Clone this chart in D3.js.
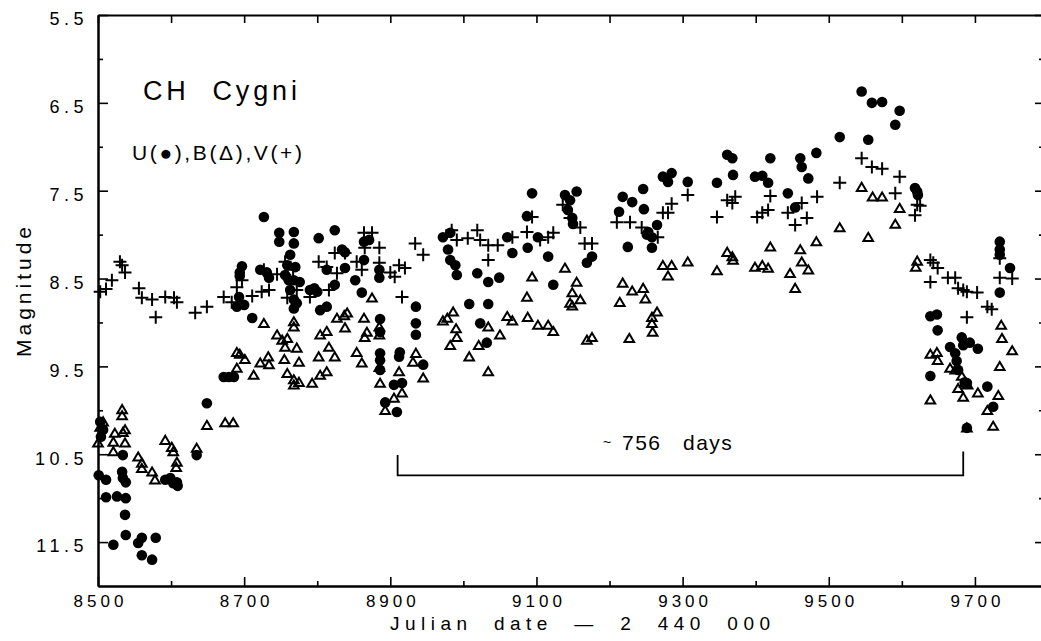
<!DOCTYPE html>
<html>
<head>
<meta charset="utf-8">
<script src="https://cdn.jsdelivr.net/npm/d3@7"></script>
<style>
  body { margin: 0; background: #fff; }
  text { font-family: "Liberation Sans", Arial, sans-serif; fill: #000; }
</style>
</head>
<body>
<script>
// CH Cygni light curve: U, B, V magnitudes against JD - 2440000

// U magnitudes (filled circles) as [day, mag]
var uData = [
  [8503,10.13],[8507,10.22],[8504,10.30],[8501,10.74],[8511,10.79],[8511,10.99],[8526,10.98],[8538,11.00],
  [8521,11.53],[8538,11.42],[8537,11.19],[8533,10.70],[8534,10.77],[8538,10.82],[8534,10.51],[8555,11.51],
  [8560,11.45],[8560,11.65],[8574,11.70],[8579,11.45],[8592,10.79],[8599,10.77],[8603,10.83],[8608,10.82],
  [8609,10.86],[8635,10.51],[8649,9.92],
  [8672,9.62],[8679,9.62],[8686,9.62],[8711,8.95],[8690,8.82],[8700,8.80],[8693,8.71],[8694,8.43],
  [8697,8.36],[8694,8.47],[8727,7.80],[8722,8.40],[8731,8.43],[8734,8.49],
  [8748,7.98],[8768,7.97],[8748,8.08],[8768,8.10],[8763,8.23],[8759,8.35],[8770,8.37],[8756,8.46],
  [8768,8.52],[8763,8.63],[8768,8.74],[8768,8.84],[8772,8.78],[8761,8.52],[8776,8.54],[8790,8.63],
  [8800,8.65],[8796,8.61],[8802,8.04],[8824,7.95],[8834,8.17],[8838,8.20],[8838,8.38],[8824,8.57],
  [8813,8.40],[8804,8.86],[8813,8.82],[8852,8.52],[8861,8.66],[8864,8.08],[8871,8.06],[8864,8.29],
  [8885,8.40],[8885,8.49],[8886,8.96],[8886,9.11],[8886,9.35],[8886,9.43],[8886,9.54],[8913,9.34],
  [8912,9.39],[8905,9.71],[8916,9.69],[8893,9.91],[8909,10.02],
  [8935,8.82],[8935,9.01],[8935,9.14],[8945,9.48],
  [8972,8.03],[8982,7.98],[8979,8.17],[8982,8.29],[8989,8.35],[8991,8.46],[9019,8.44],[9034,8.54],
  [9049,8.49],[9008,8.79],[9034,8.79],[9023,9.01],[9032,9.23],[9060,8.03],[9067,8.21],[9088,8.15],
  [9087,7.79],[9094,7.53],[9102,8.03],[9116,8.25],[9123,8.57],[9139,7.55],[9146,7.61],[9155,7.51],
  [9143,7.72],[9149,7.81],[9150,7.88],[9169,8.32],[9176,8.25],[9218,7.57],[9231,7.63],[9246,7.48],
  [9213,7.74],[9247,7.71],[9253,7.97],[9265,7.89],[9258,8.03],[9251,8.00],[9225,8.14],[9258,8.15],
  [9273,7.34],[9285,7.30],[9280,7.40],[9307,7.40],[9347,7.41],
  [9361,7.09],[9368,7.13],[9369,7.32],[9399,7.34],[9409,7.33],[9417,7.41],[9420,7.13],[9444,7.53],
  [9454,7.69],[9461,7.13],[9463,7.23],[9472,7.36],[9483,7.07],[9515,6.89],[9545,6.37],[9559,6.50],
  [9573,6.49],[9597,6.59],[9591,6.75],[9554,6.92],[9618,7.47],[9622,7.55],[9621,7.51],
  [9734,8.08],[9734,8.17],[9734,8.23],[9748,8.38],[9734,8.66],[9639,8.93],[9648,8.91],[9649,9.09],
  [9666,9.28],[9682,9.17],[9684,9.26],[9693,9.23],[9704,9.30],[9673,9.35],[9675,9.44],[9677,9.54],
  [9639,9.61],[9686,9.68],[9689,9.69],[9717,9.73],[9725,9.96],[9689,10.20]
];

// B magnitudes (open triangles)
var bData = [
  [8503,10.19],[8500,10.37],[8507,10.13],[8521,10.47],[8523,10.26],[8521,10.36],[8533,9.99],[8533,10.06],
  [8534,10.25],[8537,10.37],[8537,10.22],[8555,10.53],[8560,10.60],[8560,10.66],[8574,10.70],[8578,10.79],
  [8592,10.34],[8601,10.42],[8603,10.47],[8608,10.59],[8607,10.65],[8635,10.43],[8649,10.17],[8674,10.14],
  [8685,10.14],
  [8727,9.01],[8690,9.34],[8694,9.36],[8701,9.42],[8690,9.52],[8713,9.60],[8722,9.46],[8733,9.39],
  [8734,9.48],[8745,9.14],[8752,9.20],[8759,9.18],[8756,9.28],[8755,9.42],[8768,8.99],[8768,9.05],
  [8772,9.29],[8775,9.45],[8759,9.58],[8768,9.65],[8775,9.68],[8768,9.71],[8793,9.69],[8804,9.60],
  [8802,9.39],[8813,9.56],[8816,9.28],[8813,9.10],[8804,9.14],[8824,9.39],[8827,8.95],[8837,8.92],
  [8841,8.89],[8838,9.06],[8854,9.34],[8861,9.46],[8864,8.95],[8868,9.11],[8865,9.17],[8875,8.72],
  [8885,9.05],[8885,9.14],[8885,9.51],[8886,9.69],[8912,9.56],[8893,10.00],[8905,9.86],[8916,9.80],
  [8945,9.63],[8935,9.35],[8931,9.45],
  [8986,8.88],[8978,8.95],[8972,8.98],[8990,9.07],[8991,9.17],[8982,9.26],[9008,9.39],[9021,9.26],
  [9034,9.05],[9034,9.56],[9050,9.14],[9060,8.93],[9067,8.98],[9087,8.71],[9088,8.94],[9094,8.48],
  [9102,9.03],[9116,9.03],[9123,9.10],[9139,8.38],[9149,8.66],[9146,8.78],[9155,8.54],[9160,8.74],
  [9149,8.81],[9169,9.20],[9176,9.17],[9214,8.77],[9218,8.55],[9231,8.64],[9246,8.61],[9249,8.73],
  [9227,9.18],[9265,8.88],[9258,8.94],[9258,9.01],[9259,9.11],[9273,8.35],[9285,8.35],[9280,8.47],
  [9307,8.31],[9347,8.41],
  [9361,8.20],[9368,8.25],[9369,8.29],[9399,8.37],[9409,8.35],[9417,8.38],[9420,8.14],[9447,8.44],
  [9454,8.61],[9461,8.17],[9463,8.31],[9472,8.40],[9483,8.08],[9515,7.92],[9554,8.03],[9545,7.46],
  [9560,7.57],[9573,7.57],[9597,7.70],[9591,7.88],[9621,8.30],[9619,8.37],
  [9639,9.36],[9648,9.34],[9649,9.43],[9666,9.52],[9673,9.54],[9682,9.61],[9677,9.75],[9686,9.69],
  [9690,9.71],[9704,9.80],[9684,9.85],[9639,9.88],[9717,10.00],[9732,9.83],[9734,9.50],[9737,9.18],
  [9736,9.03],[9751,9.32],[9725,10.18],[9689,10.20]
];

// V magnitudes (plus signs)
var vData = [
  [8503,8.65],[8511,8.62],[8519,8.52],[8530,8.31],[8533,8.35],[8537,8.43],[8556,8.61],[8560,8.72],
  [8574,8.74],[8579,8.94],[8592,8.71],[8604,8.72],[8608,8.77],[8633,8.89],[8649,8.82],[8672,8.71],
  [8683,8.77],[8690,8.60],[8697,8.52],[8711,8.70],[8724,8.65],[8734,8.63],[8727,8.40],[8745,8.45],
  [8756,8.31],[8763,8.52],[8767,8.40],[8759,8.72],[8772,8.63],[8790,8.71],[8802,8.31],[8813,8.37],
  [8816,8.63],[8824,8.21],[8827,8.44],[8838,8.21],[8854,8.31],[8861,8.40],[8864,7.98],[8875,7.98],
  [8865,8.15],[8885,8.15],[8885,8.32],[8900,8.43],[8906,8.48],[8912,8.35],[8916,8.71],[8920,8.38],
  [8934,8.10],[8945,8.23],
  [8984,7.95],[8991,8.06],[9006,8.04],[9019,7.95],[9023,8.06],[9034,8.12],[9047,8.12],[9034,8.29],
  [9067,8.03],[9087,7.97],[9094,7.80],[9105,8.06],[9116,8.03],[9123,7.98],[9136,7.66],[9146,7.81],
  [9160,7.92],[9166,8.10],[9176,8.10],[9210,7.86],[9228,7.86],[9244,7.92],[9266,8.03],[9273,7.75],
  [9280,7.75],[9285,7.65],[9307,7.55],[9347,7.80],
  [9361,7.61],[9368,7.64],[9372,7.57],[9402,7.80],[9409,7.75],[9417,7.72],[9420,7.56],[9444,7.75],
  [9454,7.89],[9463,7.64],[9470,7.81],[9484,7.57],[9515,7.41],[9545,7.13],[9559,7.23],[9573,7.25],
  [9597,7.34],[9591,7.53],[9621,7.66],[9625,7.67],[9618,7.78],
  [9639,8.29],[9643,8.32],[9649,8.38],[9639,8.54],[9663,8.49],[9673,8.49],[9677,8.61],[9684,8.63],
  [9689,8.65],[9703,8.66],[9689,8.94],[9717,8.82],[9723,8.85],[9734,8.27],[9734,8.49],[9751,8.50]
];

// axis ticks
var xMajor = [8500, 8700, 8900, 9100, 9300, 9500, 9700];
var xMinor = [8600, 8800, 9000, 9200, 9400, 9600, 9800];
var yMajor = [5.5, 6.5, 7.5, 8.5, 9.5, 10.5, 11.5];
var yMinor = [6, 7, 8, 9, 10, 11];

// the ~756 day bracket, [day, mag]
var bracket = [[8910, 10.51], [8910, 10.74], [9684, 10.74], [9684, 10.47]];

var width = 1041, height = 641;

var x = d3.scaleLinear().domain([8500, 9800]).range([98, 1048]);
var y = d3.scaleLinear().domain([5.5, 12]).range([15, 586]);

var svg = d3.select('body').append('svg')
  .attr('width', width)
  .attr('height', height);

// ---- axes (ticks point inward) ----
function styleAxis(g) {
  g.select('.domain').attr('stroke', '#000').attr('stroke-width', 2);
  g.selectAll('.tick line').attr('stroke', '#000').attr('stroke-width', 1.6);
  g.selectAll('.tick text').attr('fill', '#000');
}

// bottom
svg.append('g')
  .attr('transform', 'translate(0,' + y.range()[1] + ')')
  .call(d3.axisBottom(x).tickValues(xMajor).tickSize(-9).tickSizeOuter(0).tickPadding(9)
    .tickFormat(d3.format('d')))
  .call(styleAxis)
  .call(function(g) {
    g.selectAll('.tick text')
      .attr('font-family', '"Liberation Sans", Arial, sans-serif')
      .attr('font-size', 17)
      .attr('letter-spacing', 4)
      .attr('dx', 2);
  });
svg.append('g')
  .attr('transform', 'translate(0,' + y.range()[1] + ')')
  .call(d3.axisBottom(x).tickValues(xMinor).tickSize(-5).tickSizeOuter(0).tickFormat(''))
  .call(styleAxis);

// top
svg.append('g')
  .attr('transform', 'translate(0,' + y.range()[0] + ')')
  .call(d3.axisTop(x).tickValues(xMajor.concat(xMinor)).tickSize(-8).tickSizeOuter(0).tickFormat(''))
  .call(styleAxis);

// left
svg.append('g')
  .attr('transform', 'translate(' + x.range()[0] + ',0)')
  .call(d3.axisLeft(y).tickValues(yMajor).tickSize(-10).tickSizeOuter(0).tickPadding(10)
    .tickFormat(d3.format('.1f')))
  .call(styleAxis)
  .call(function(g) {
    g.selectAll('.tick text')
      .attr('font-family', '"Liberation Sans", Arial, sans-serif')
      .attr('font-size', 18)
      .attr('letter-spacing', 4.5)
      .attr('dy', '0.55em');
  });
svg.append('g')
  .attr('transform', 'translate(' + x.range()[0] + ',0)')
  .call(d3.axisLeft(y).tickValues(yMinor).tickSize(-5).tickSizeOuter(0).tickFormat(''))
  .call(styleAxis);

// right (its line falls just past the picture edge)
svg.append('g')
  .attr('transform', 'translate(' + x.range()[1] + ',0)')
  .call(d3.axisRight(y).tickValues(yMajor).tickSize(-13).tickSizeOuter(0).tickFormat(''))
  .call(styleAxis);
svg.append('g')
  .attr('transform', 'translate(' + x.range()[1] + ',0)')
  .call(d3.axisRight(y).tickValues(yMinor).tickSize(-9).tickSizeOuter(0).tickFormat(''))
  .call(styleAxis);

// ---- marks ----
var marks = svg.append('g');

marks.selectAll('circle.u')
  .data(uData)
  .enter().append('circle')
  .attr('class', 'u')
  .attr('cx', function(d) { return x(d[0]); })
  .attr('cy', function(d) { return y(d[1]); })
  .attr('r', 5.3)
  .attr('fill', '#000');

marks.selectAll('path.b')
  .data(bData)
  .enter().append('path')
  .attr('class', 'b')
  .attr('transform', function(d) { return 'translate(' + x(d[0]) + ',' + y(d[1]) + ')'; })
  .attr('d', 'M0,-4.4L4.8,3.7L-4.8,3.7Z')
  .attr('fill', 'none')
  .attr('stroke', '#000')
  .attr('stroke-width', 2)
  .attr('stroke-linejoin', 'miter');

marks.selectAll('path.v')
  .data(vData)
  .enter().append('path')
  .attr('class', 'v')
  .attr('transform', function(d) { return 'translate(' + x(d[0]) + ',' + y(d[1]) + ')'; })
  .attr('d', 'M-6.5,0H6.5M0,-6.5V6.5')
  .attr('fill', 'none')
  .attr('stroke', '#000')
  .attr('stroke-width', 2);

// ---- bracket and annotation ----
svg.append('path')
  .datum(bracket)
  .attr('d', d3.line().x(function(d) { return x(d[0]); }).y(function(d) { return y(d[1]); }))
  .attr('fill', 'none')
  .attr('stroke', '#000')
  .attr('stroke-width', 1.8);

var note = svg.append('text')
  .attr('x', 603)
  .attr('y', 450)
  .attr('font-size', 21);
note.append('tspan').attr('font-size', 14).attr('dy', -3).text('~');
note.append('tspan').attr('x', 622).attr('dy', 3).attr('letter-spacing', 1.5).text('756');
note.append('tspan').attr('x', 683).attr('letter-spacing', 1.5).text('days');

// ---- titles ----
svg.append('text')
  .attr('x', 143).attr('y', 100)
  .attr('font-size', 27)
  .attr('textLength', 154)
  .attr('lengthAdjust', 'spacing')
  .style('white-space', 'pre')
  .text('CH  Cygni');

svg.append('text')
  .attr('x', 132).attr('y', 160)
  .attr('font-size', 21)
  .attr('textLength', 170)
  .attr('lengthAdjust', 'spacing')
  .text('U(●),B(Δ),V(+)');

svg.append('text')
  .attr('x', 390).attr('y', 630)
  .attr('font-size', 19)
  .attr('textLength', 380)
  .attr('lengthAdjust', 'spacing')
  .style('white-space', 'pre')
  .text('Julian  date  —  2  440  000');

svg.append('text')
  .attr('transform', 'translate(31,292) rotate(-90)')
  .attr('text-anchor', 'middle')
  .attr('font-size', 21)
  .attr('textLength', 130)
  .attr('lengthAdjust', 'spacing')
  .text('Magnitude');
</script>
</body>
</html>
